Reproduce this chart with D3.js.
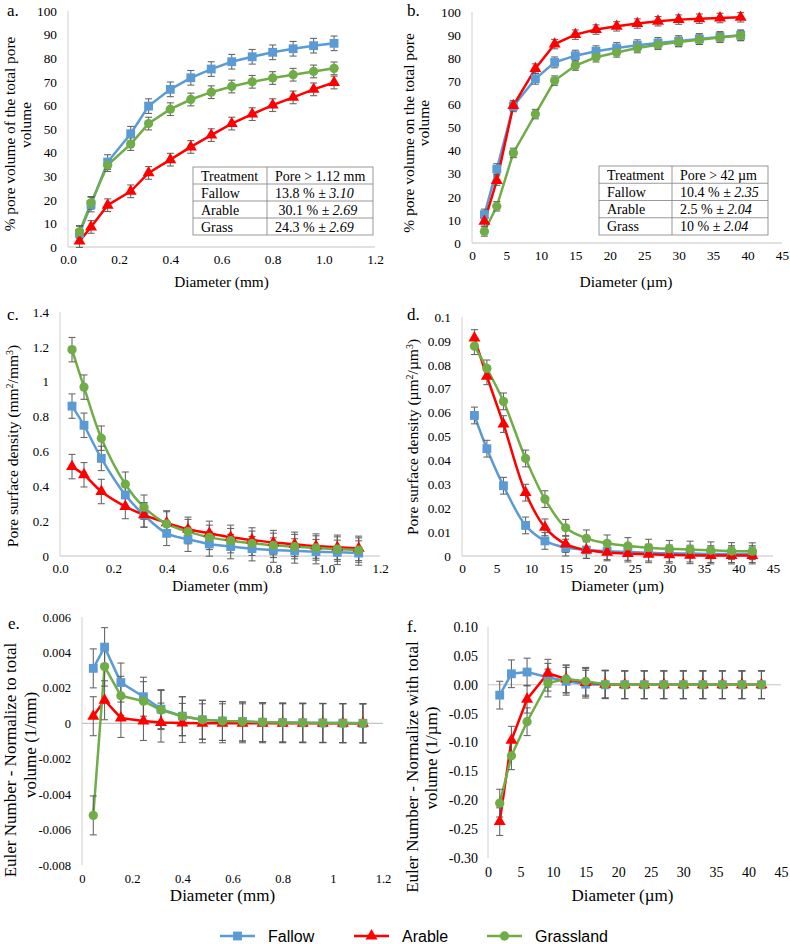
<!DOCTYPE html>
<html>
<head>
<meta charset="utf-8">
<script src="https://cdn.jsdelivr.net/npm/d3@7"></script>
<style>
  body { margin: 0; background: #fff; }
  text { font-family: "Liberation Serif", "Times New Roman", serif; fill: #000; }
</style>
</head>
<body>
<div id="plot"></div>
<script>
// pore diameters (mm and um)
const xMm = [0.045, 0.09, 0.155, 0.245, 0.315, 0.4, 0.48, 0.56, 0.64, 0.72, 0.8, 0.88, 0.96, 1.04, 1.12];
const xUm = [1.8, 3.6, 6, 9.2, 12, 15, 18, 21, 24, 27, 30, 33, 36, 39, 42];

const seriesNames = ["Fallow", "Arable", "Grassland"];
const colors = ["#5B9BD5", "#FF0000", "#70AD47"];

// a. cumulative % pore volume (mm)
const aFallow = [5.7, 18, 36, 48, 59.7, 66.8, 71.7, 75.4, 78.5, 80.6, 82.5, 84, 85.3, 86.3];
const aArable = [2.5, 8.5, 17.7, 23.6, 31.4, 37, 42.4, 47.4, 52.3, 56.3, 60.1, 63.4, 66.8, 69.7];
const aGrass  = [6.4, 18.7, 34.7, 43.6, 52.3, 58.4, 62.5, 65.6, 68, 70, 71.6, 73, 74.4, 75.7];
const aErr = [3.1, 2.69, 2.69];

// b. cumulative % pore volume (um)
const bFallow = [12.3, 32, 59.2, 71.1, 78.2, 81.1, 83, 84.4, 85.6, 86.6, 87.4, 88.3, 89.2, 89.9];
const bArable = [9.4, 27, 59.5, 75.5, 86.1, 90.2, 92.4, 93.8, 95, 96, 96.7, 97.1, 97.4, 97.7];
const bGrass  = [5, 15.9, 39, 55.8, 70.3, 76.8, 80.4, 82.5, 84.4, 85.8, 87, 88, 89, 89.8];
const bErr = [2.35, 2.04, 2.04];

// c. pore surface density (mm)
const cFallow = [0.86, 0.75, 0.56, 0.35, 0.235, 0.13, 0.096, 0.069, 0.054, 0.042, 0.034, 0.029, 0.025, 0.021, 0.017];
const cArable = [0.513, 0.466, 0.37, 0.284, 0.236, 0.19, 0.153, 0.13, 0.107, 0.092, 0.077, 0.067, 0.057, 0.05, 0.044];
const cGrass  = [1.184, 0.969, 0.676, 0.412, 0.28, 0.184, 0.14, 0.107, 0.088, 0.073, 0.061, 0.054, 0.046, 0.04, 0.034];
const cErr = [0.07, 0.07, 0.07];

// d. pore surface density (um)
const dFallow = [0.0588, 0.0449, 0.0294, 0.0128, 0.0063, 0.0035, 0.0025, 0.002, 0.0017, 0.0014, 0.0011, 0.001, 0.0008, 0.0008, 0.0008];
const dArable = [0.0912, 0.0752, 0.0552, 0.0265, 0.012, 0.005, 0.0025, 0.0015, 0.001, 0.0007, 0.0005, 0.0003, 0.0002, 0.0002, 0.0002];
const dGrass  = [0.0878, 0.0785, 0.0647, 0.0408, 0.0238, 0.0118, 0.0074, 0.0053, 0.0042, 0.0035, 0.003, 0.0027, 0.0024, 0.0021, 0.002];
const dErr = [0.0035, 0.0035, 0.0035];

// e. Euler number (mm)
const eFallow = [0.0031, 0.0043, 0.0023, 0.0015, 0.0008, 0.0004, 0.0002, 0.00013, 0.0001, 0.00006, 0.00004, 0.00003, 0.00002, 0.00001, 0];
const eArable = [0.0004, 0.0013, 0.0003, 0.00013, 0.00004, 0.00002, 0, 0, 0, 0, 0, 0, 0, 0, 0];
const eGrass  = [-0.0052, 0.0032, 0.00155, 0.00125, 0.00075, 0.0004, 0.0002, 0.00013, 0.0001, 0.00006, 0.00004, 0.00003, 0.00002, 0.00001, 0];
const eErr = [0.0011, 0.0011, 0.0011];

// f. Euler number (um)
const fFallow = [-0.018, 0.019, 0.022, 0.013, 0.006, 0.001, 0, 0, 0, 0, 0, 0, 0, 0, 0];
const fArable = [-0.237, -0.096, -0.025, 0.02, 0.01, 0.004, 0.001, 0, 0, 0, 0, 0, 0, 0, 0];
const fGrass  = [-0.205, -0.123, -0.064, 0.003, 0.01, 0.006, 0.001, 0, 0, 0, 0, 0, 0, 0, 0];
const fErr = [0.024, 0.024, 0.024];

// tick labels
const ticksMm = [0, 0.2, 0.4, 0.6, 0.8, 1.0, 1.2];
const ticksUm = [0, 5, 10, 15, 20, 25, 30, 35, 40, 45];
const ticksPct = [0, 10, 20, 30, 40, 50, 60, 70, 80, 90, 100];
const ticksC = [0, 0.2, 0.4, 0.6, 0.8, 1, 1.2, 1.4];
const ticksD = [0, 0.01, 0.02, 0.03, 0.04, 0.05, 0.06, 0.07, 0.08, 0.09, 0.1];
const ticksE = [-0.008, -0.006, -0.004, -0.002, 0, 0.002, 0.004, 0.006];
const ticksF = [-0.3, -0.25, -0.2, -0.15, -0.1, -0.05, 0, 0.05, 0.1];

// inset tables
const tableA = [["Treatment", "Pore > 1.12 mm", ""], ["Fallow", "13.8 % ± ", "3.10"], ["Arable", " 30.1 % ± ", "2.69"], ["Grass", "24.3 % ± ", "2.69"]];
const tableB = [["Treatment", "Pore > 42 µm", ""], ["Fallow", "10.4 % ± ", "2.35"], ["Arable", "2.5 % ± ", "2.04"], ["Grass", "10 % ± ", "2.04"]];

const width = 790, height = 944;
const svg = d3.select("#plot").append("svg")
  .attr("width", width)
  .attr("height", height);
svg.append("rect").attr("width", width).attr("height", height).attr("fill", "#fff");

const shapes = [d3.symbolSquare, d3.symbolTriangle, d3.symbolCircle];
const shapeSize = [78, 62, 68];

function panel(p) {
  const g = svg.append("g");
  const x = d3.scaleLinear().domain(p.xDom).range([p.left, p.right]);
  const y = d3.scaleLinear().domain(p.yDom).range([p.bottom, p.top]);

  // axis lines, light grey like Excel
  g.append("line")
    .attr("x1", p.left).attr("x2", p.left)
    .attr("y1", p.top).attr("y2", p.bottom)
    .attr("stroke", "#d0d0d0").attr("stroke-width", 1);
  g.append("line")
    .attr("x1", p.left).attr("x2", p.right)
    .attr("y1", y(0)).attr("y2", y(0))
    .attr("stroke", "#c4c4c4").attr("stroke-width", 1.2);

  const yAx = g.append("g")
    .attr("transform", "translate(" + p.left + ",0)")
    .call(d3.axisLeft(y).tickValues(p.yTicks).tickFormat(p.yFmt).tickSize(0).tickPadding(p.yPad || 11));
  const xAx = g.append("g")
    .attr("transform", "translate(0," + p.bottom + ")")
    .call(d3.axisBottom(x).tickValues(p.xTicks).tickFormat(p.xFmt).tickSize(0).tickPadding(p.xPad || 8));
  [yAx, xAx].forEach(function(a) {
    a.select(".domain").remove();
    a.attr("font-family", null).attr("font-size", p.tickFs);
  });

  const xs = p.xs;
  const line = d3.line()
    .x(function(d, i) { return x(xs[i]); })
    .y(function(d) { return y(d); })
    .curve(p.smooth ? d3.curveCatmullRom : d3.curveLinear);

  p.series.forEach(function(vals, k) {
    g.append("path")
      .attr("d", line(vals))
      .attr("fill", "none")
      .attr("stroke", colors[k])
      .attr("stroke-width", 2.5);
  });

  // error bars
  p.series.forEach(function(vals, k) {
    const e = p.err[k];
    const eb = g.append("g").attr("stroke", "#595959").attr("stroke-width", 1.1).attr("opacity", 0.9);
    vals.forEach(function(v, i) {
      const cx = x(xs[i]);
      eb.append("line").attr("x1", cx).attr("x2", cx).attr("y1", y(v - e)).attr("y2", y(v + e));
      eb.append("line").attr("x1", cx - 3.5).attr("x2", cx + 3.5).attr("y1", y(v - e)).attr("y2", y(v - e));
      eb.append("line").attr("x1", cx - 3.5).attr("x2", cx + 3.5).attr("y1", y(v + e)).attr("y2", y(v + e));
    });
  });

  p.series.forEach(function(vals, k) {
    g.append("g").selectAll("path")
      .data(vals)
      .enter().append("path")
        .attr("d", d3.symbol().type(shapes[k]).size(shapeSize[k]))
        .attr("transform", function(d, i) { return "translate(" + x(xs[i]) + "," + y(d) + ")"; })
        .attr("fill", colors[k]);
  });

  // panel letter
  g.append("text").attr("x", p.lab[0]).attr("y", p.lab[1])
    .style("font-size", "17px").text(p.label);

  // x title
  g.append("text")
    .attr("x", (p.left + p.right) / 2 + (p.xtOff || 0))
    .attr("y", p.xtY)
    .attr("text-anchor", "middle")
    .style("font-size", p.titleFs + "px")
    .text(p.xTitle);

  // y title (one or two lines)
  p.yTitle.forEach(function(t, i) {
    g.append("text")
      .attr("transform", "translate(" + p.ytX[i] + "," + p.ytY[i] + ") rotate(-90)")
      .attr("text-anchor", "middle")
      .style("font-size", p.titleFs + "px")
      .html(t);
  });

  if (p.table) drawTable(p.table, p.tbl);
}

function drawTable(rows, t) {
  const g = svg.append("g");
  const rh = (t.y1 - t.y0) / rows.length;
  g.append("rect").attr("x", t.x0).attr("y", t.y0)
    .attr("width", t.x2 - t.x0).attr("height", t.y1 - t.y0)
    .attr("fill", "#fff").attr("stroke", "#7f7f7f").attr("stroke-width", 0.8);
  g.append("line").attr("x1", t.x1).attr("x2", t.x1).attr("y1", t.y0).attr("y2", t.y1)
    .attr("stroke", "#7f7f7f").attr("stroke-width", 0.8);
  rows.forEach(function(r, i) {
    if (i > 0) {
      g.append("line").attr("x1", t.x0).attr("x2", t.x2)
        .attr("y1", t.y0 + i * rh).attr("y2", t.y0 + i * rh)
        .attr("stroke", "#7f7f7f").attr("stroke-width", 0.8);
    }
    const by = t.y0 + i * rh + rh / 2 + 5;
    g.append("text").attr("x", t.x0 + 8).attr("y", by).style("font-size", "14px").text(r[0]);
    const tx = g.append("text").attr("x", t.x1 + 8).attr("y", by).style("font-size", "14px")
      .attr("xml:space", "preserve");
    tx.append("tspan").text(r[1]);
    tx.append("tspan").style("font-style", "italic").text(r[2]);
  });
}

const f1 = function(d) { return d.toFixed(1); };
const fg = function(d) { return String(+d.toFixed(4)); };

panel({
  label: "a.", lab: [7, 16],
  left: 68, right: 375, top: 11, bottom: 247,
  xDom: [0, 1.2], yDom: [0, 100], xs: xMm,
  xTicks: ticksMm, yTicks: ticksPct, xFmt: f1, yFmt: d3.format("d"),
  series: [aFallow, aArable, aGrass], err: aErr,
  tickFs: 13.3, titleFs: 15.3,
  xTitle: "Diameter (mm)", xtY: 287,
  yTitle: ["% pore volume of the total pore", "volume"], ytX: [15, 31], ytY: [134, 125],
  table: tableA, tbl: { x0: 193, x1: 267, x2: 373, y0: 167, y1: 235 }
});

panel({
  label: "b.", lab: [407, 16],
  left: 472, right: 782, top: 12, bottom: 243,
  xDom: [0, 45], yDom: [0, 100], xs: xUm,
  xTicks: ticksUm, yTicks: ticksPct, xFmt: d3.format("d"), yFmt: d3.format("d"),
  series: [bFallow, bArable, bGrass], err: bErr,
  tickFs: 13.3, titleFs: 15.5,
  xTitle: "Diameter (µm)", xtY: 287, xtOff: -1,
  yTitle: ["% pore volume on the total pore", "volume"], ytX: [414, 429], ytY: [133, 123],
  table: tableB, tbl: { x0: 599, x1: 672, x2: 768, y0: 166, y1: 235 }
});

panel({
  label: "c.", lab: [7, 320],
  left: 60, right: 380, top: 312, bottom: 556,
  xDom: [0, 1.2], yDom: [0, 1.4], xs: xMm, smooth: true,
  xTicks: ticksMm, yTicks: ticksC, xFmt: f1, yFmt: fg,
  series: [cFallow, cArable, cGrass], err: cErr,
  tickFs: 13, titleFs: 15.5,
  xTitle: "Diameter (mm)", xtY: 591,
  yTitle: ["Pore surface density (mm<tspan dy='-5' font-size='10'>2</tspan><tspan dy='5'>/mm</tspan><tspan dy='-5' font-size='10'>3</tspan><tspan dy='5'>)</tspan>"],
  ytX: [18], ytY: [446]
});

panel({
  label: "d.", lab: [407, 320],
  left: 462, right: 773, top: 317, bottom: 556,
  xDom: [0, 45], yDom: [0, 0.1], xs: xUm, smooth: true,
  xTicks: ticksUm, yTicks: ticksD, xFmt: d3.format("d"), yFmt: fg,
  series: [dFallow, dArable, dGrass], err: dErr,
  tickFs: 13.3, titleFs: 15.5,
  xTitle: "Diameter (µm)", xtY: 591,
  yTitle: ["Pore surface density (µm<tspan dy='-5' font-size='10'>2</tspan><tspan dy='5'>/µm</tspan><tspan dy='-5' font-size='10'>3</tspan><tspan dy='5'>)</tspan>"],
  ytX: [418], ytY: [437]
});

panel({
  label: "e.", lab: [8, 629],
  left: 82, right: 383, top: 617, bottom: 865,
  xDom: [0, 1.2], yDom: [-0.008, 0.006], xs: xMm,
  xTicks: ticksMm, yTicks: ticksE, xFmt: fg, yFmt: fg,
  series: [eFallow, eArable, eGrass], err: eErr, yPad: 11, xPad: 9,
  tickFs: 12.6, titleFs: 17,
  xTitle: "Diameter (mm)", xtY: 901, xtOff: -10,
  yTitle: ["Euler Number - Normalize to total", "volume (1/mm)"], ytX: [16, 36], ytY: [760, 745]
});

panel({
  label: "f.", lab: [407, 632],
  left: 488, right: 781, top: 627, bottom: 858,
  xDom: [0, 45], yDom: [-0.3, 0.1], xs: xUm,
  xTicks: ticksUm, yTicks: ticksF, xFmt: d3.format("d"), yFmt: function(d) { return d.toFixed(2); },
  series: [fFallow, fArable, fGrass], err: fErr, yPad: 10, xPad: 9,
  tickFs: 14, titleFs: 17,
  xTitle: "Diameter (µm)", xtY: 901, xtOff: -12,
  yTitle: ["Euler Number - Normalize with total", "volume (1/µm)"], ytX: [418, 437], ytY: [767, 758]
});

// legend
const legX = [220, 354, 487];
const leg = svg.append("g");
seriesNames.forEach(function(n, k) {
  leg.append("line")
    .attr("x1", legX[k]).attr("x2", legX[k] + 35)
    .attr("y1", 936).attr("y2", 936)
    .attr("stroke", colors[k]).attr("stroke-width", 2.5);
  leg.append("path")
    .attr("d", d3.symbol().type(shapes[k]).size(shapeSize[k]))
    .attr("transform", "translate(" + (legX[k] + 17.5) + ",936)")
    .attr("fill", colors[k]);
  leg.append("text")
    .attr("x", legX[k] + 48).attr("y", 942)
    .style("font-family", "'Liberation Sans', Arial, sans-serif")
    .style("font-size", "16px")
    .text(n);
});
</script>
</body>
</html>
